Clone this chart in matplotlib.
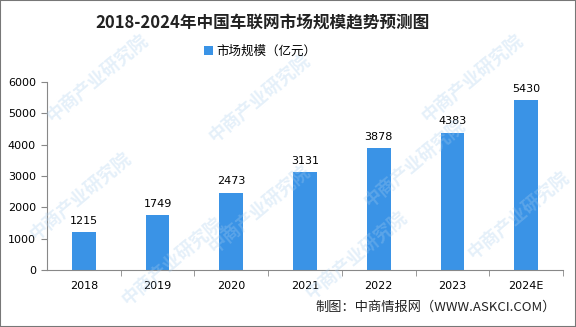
import matplotlib
matplotlib.use('Agg')
import matplotlib.pyplot as plt
from matplotlib.patches import Rectangle

plt.rcParams['font.family'] = ['Noto Sans CJK SC', 'DejaVu Sans']

years = ['2018', '2019', '2020', '2021', '2022', '2023', '2024E']
market_size = [1215, 1749, 2473, 3131, 3878, 4383, 5430]
y_ticks = [0, 1000, 2000, 3000, 4000, 5000, 6000]

bar_color = '#3a93e6'

fig = plt.figure(figsize=(5.76, 3.27), dpi=100)
ax = fig.add_axes([47 / 576, 57 / 327, 516 / 576, 188 / 327])

# faint diagonal watermark
for wx, wy in [(0.17, 0.76), (0.45, 0.70), (0.82, 0.76), (0.14, 0.40), (0.45, 0.36),
               (0.72, 0.50), (0.30, 0.20), (0.62, 0.22), (0.90, 0.34)]:
    fig.text(wx, wy, '中商产业研究院', fontsize=13, color='#a8cdee', alpha=0.3,
             rotation=40, ha='center', va='center', fontweight='bold', zorder=0)

x = range(len(years))
bars = ax.bar(x, market_size, width=0.32, color=bar_color, zorder=2,
              label='市场规模（亿元）')
for xi, v in zip(x, market_size):
    ax.text(xi, v + 200, str(v), ha='center', va='bottom', fontsize=8,
            family='DejaVu Sans')

ax.set_xlim(-0.5, len(years) - 0.5)
ax.set_ylim(0, 6000)
ax.set_yticks(y_ticks)
ax.set_xticks(list(x))
ax.set_xticklabels(years, fontsize=8, family='DejaVu Sans')
ax.set_yticklabels([str(t) for t in y_ticks], fontsize=8, family='DejaVu Sans')
ax.set_xticks([i + 0.5 for i in x], minor=True)
ax.tick_params(axis='x', which='major', length=0, pad=8)
ax.tick_params(axis='x', which='minor', length=4, color='#888888')
ax.tick_params(axis='y', length=4, color='#888888', pad=4)
for s in ['top', 'right']:
    ax.spines[s].set_visible(False)
for s in ['left', 'bottom']:
    ax.spines[s].set_color('#888888')
ax.patch.set_alpha(0)

fig.text(0.455, 0.932, '2018-2024年中国车联网市场规模趋势预测图', ha='center', va='center',
         fontsize=12, fontweight='bold', color='#222222')
fig.legend(loc='center', bbox_to_anchor=(0.452, 0.842), frameon=False, fontsize=9,
           handlelength=0.7, handleheight=0.7, handletextpad=0.3)
fig.text(0.965, 0.06, '制图：中商情报网（WWW.ASKCI.COM）', ha='right', va='center',
         fontsize=9.5, color='#222222')

fig.patches.append(Rectangle((0, 0), 1, 1, transform=fig.transFigure, fill=False,
                             edgecolor='#777777', linewidth=1.5))

fig.savefig('out.png', dpi=100)
